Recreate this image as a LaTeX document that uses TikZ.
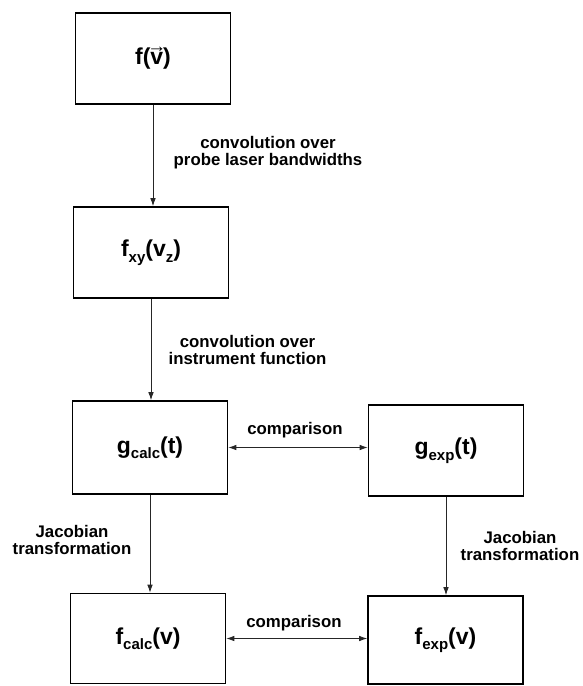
\documentclass[tikz,border=0pt]{standalone}
\usepackage{fontspec}
\setmainfont{Liberation Sans}
\usetikzlibrary{arrows.meta}
\newcommand{\lowtxt}[1]{\raisebox{-0.45ex}{\fontsize{15}{15}\selectfont #1}}
\newcommand{\vvec}{\ooalign{v\cr\hidewidth\raisebox{0.5em}{\fontsize{19}{19}\selectfont →}\hidewidth\cr}}
\begin{document}
\begin{tikzpicture}[x=1pt,y=-1pt,
  box/.style={draw=black,line width=1.6pt,minimum width=155pt,minimum height=91pt,
    inner sep=0pt,font=\fontsize{23}{25}\selectfont\bfseries},
  lbl/.style={align=center,font=\fontsize{16.8}{17}\selectfont\bfseries,inner sep=0pt},
  arr/.style={draw=black!85,line width=0.8pt,-{Latex[length=8pt,width=5.5pt]}},
  darr/.style={draw=black!85,line width=0.8pt,{Latex[length=8pt,width=5.5pt]}-{Latex[length=8pt,width=5.5pt]}}]
\useasboundingbox (0,0) rectangle (582,686);
\node[box] (b1) at (153,58.5) {f(\vvec)};
\node[box] (b2) at (151,252.5) {f\lowtxt{xy}(v\lowtxt{z})};
\node[box,minimum height=93pt] (b3) at (150,447.5) {g\lowtxt{calc}(t)};
\node[box] (b4) at (446,450.5) {g\lowtxt{exp}(t)};
\node[box,minimum height=90pt] (b5) at (148,638.5) {f\lowtxt{calc}(v)};
\node[box,minimum height=88pt] (b6) at (445.5,640) {f\lowtxt{exp}(v)};
\draw[arr] (b1.south) -- (b1.south |- b2.north);
\draw[arr] (b2.south) -- (b2.south |- b3.north);
\draw[arr] (b3.south) -- (b3.south |- b5.north);
\draw[arr] (b4.south) -- (b4.south |- b6.north);
\draw[darr] (b3.east) -- (b3.east -| b4.west);
\draw[darr] (b5.east) -- (b5.east -| b6.west);
\node[lbl] (l1) at (268,153) {convolution over\\probe laser bandwidths};
\node[lbl] (l2) at (247.5,350) {convolution over\\instrument function};
\node[lbl] (l3) at (295,430) {comparison};
\node[lbl] (l4) at (294,623) {comparison};
\node[lbl] (l5) at (72,540) {Jacobian\\transformation};
\node[lbl] (l6) at (520,546) {Jacobian\\transformation};
\end{tikzpicture}
\end{document}
